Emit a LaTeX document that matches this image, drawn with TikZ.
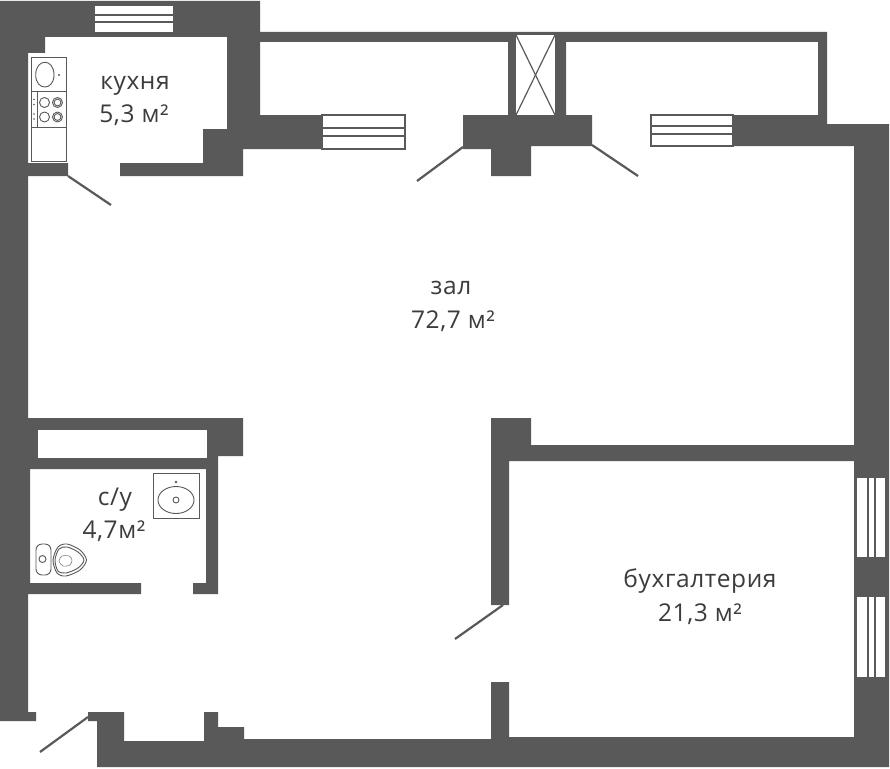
\documentclass[tikz,border=0pt]{standalone}
\usepackage{fontspec}
\setmainfont[LetterSpace=2.5]{Open Sans}
\definecolor{wallgray}{HTML}{595959}
\definecolor{textgray}{HTML}{3C3C3C}
\tikzset{wall/.style = {fill=wallgray, draw=none}}
\tikzset{pane/.style = {fill=white, draw=wallgray, line width=1.1}}
\tikzset{leaf/.style = {draw=wallgray, line width=2.2}}
\tikzset{fixture/.style = {draw=wallgray, line width=0.9}}
\tikzset{roomlabel/.style = {text=textgray, font=\fontsize{24.5}{24.5}\selectfont, inner sep=0, anchor=base}}

\begin{document}
\begin{tikzpicture}[x=1pt, y=-1pt]
    \useasboundingbox (0, 0) rectangle (890, 768);
    \fill [white] (0, 0) rectangle (890, 768);

    % walls
    \path [wall] (0, 1) -- (260, 1) -- (260, 32) -- (827, 32) -- (827, 124) -- (889, 124)
        -- (889, 767) -- (97, 767) -- (97, 721) -- (88, 721) -- (88, 712) -- (124, 712)
        -- (124, 741) -- (204, 741) -- (204, 712) -- (218, 712) -- (218, 727) -- (244, 727)
        -- (244, 739) -- (491, 739) -- (491, 682) -- (509, 682) -- (509, 737) -- (854, 737)
        -- (854, 461) -- (509, 461) -- (509, 605) -- (491, 605) -- (491, 418) -- (531, 418)
        -- (531, 445) -- (854, 445) -- (854, 146) -- (651, 146) -- (651, 115) -- (818, 115)
        -- (818, 42) -- (566, 42) -- (566, 115) -- (592, 115) -- (592, 146) -- (531, 146)
        -- (531, 176) -- (491, 176) -- (491, 149) -- (463, 149) -- (463, 115) -- (508, 115)
        -- (508, 42) -- (260, 42) -- (260, 115) -- (405, 115) -- (405, 149) -- (243, 149)
        -- (243, 176) -- (120, 176) -- (120, 163) -- (203, 163) -- (203, 129) -- (227, 129)
        -- (227, 37) -- (45, 37) -- (45, 53) -- (28, 53) -- (28, 163) -- (68, 163)
        -- (68, 176) -- (28, 176) -- (28, 418) -- (243, 418) -- (243, 456) -- (218, 456)
        -- (218, 594) -- (193, 594) -- (193, 583) -- (206, 583) -- (206, 469) -- (30, 469)
        -- (30, 583) -- (141, 583) -- (141, 594) -- (28, 594) -- (28, 712) -- (36, 712)
        -- (36, 721) -- (0, 721) -- cycle;
    \fill [white] (38, 430) rectangle (207, 458);

    % shaft
    \fill [white] (516, 35) rectangle (555, 115);
    \draw [fixture, line width=1.2] (516, 35) -- (555, 115);
    \draw [fixture, line width=1.2] (555, 35) -- (516, 115);

    % windows
    \foreach \xa/\ya/\xb/\yb/\ba/\bb in {94/5/174/33/15/22, 322/115/405/149/128/136, 651/115/733/146/126/134} {
      \draw [pane] (\xa, \ya) rectangle (\xb, \yb);
      \draw [pane] (\xa, \ba) -- (\xb, \ba);
      \draw [pane] (\xa, \bb) -- (\xb, \bb);
    }
    \foreach \ya/\yb in {477/558, 596/678} {
      \draw [pane] (856, \ya) rectangle (886, \yb);
      \draw [pane] (868, \ya) -- (868, \yb);
      \draw [pane] (875, \ya) -- (875, \yb);
    }

    % doors
    \draw [leaf] (68, 176) -- (111, 205);
    \draw [leaf] (463, 147) -- (417, 181);
    \draw [leaf] (592, 145) -- (638, 176);
    \draw [leaf] (503, 605) -- (455, 639);
    \draw [leaf] (88, 717) -- (40, 752);

    % kitchen unit
    \draw [fixture] (31, 57) rectangle (66, 161);
    \draw [fixture] (31, 91) -- (66, 91);
    \draw [fixture] (31, 127) -- (66, 127);
    \draw [fixture] (37, 91) -- (37, 127);
    \draw [fixture] (35.7, 75) .. controls (35.7, 58) and (54, 58) .. (54, 75)
        .. controls (54, 91) and (35.7, 91) .. (35.7, 75);
    \fill [wallgray] (59, 75) circle (1.2);
    \foreach \yb in {102.5, 117} {
      \draw [fixture] (44.5, \yb) circle (5);
      \draw [fixture] (57.5, \yb) circle (5);
      \draw [fixture] (57.5, \yb) circle (3.4);
      \fill [wallgray] (34, \yb-3) circle (0.8);
      \fill [wallgray] (34, \yb+2) circle (0.8);
    }

    % washbasin
    \draw [fixture] (153, 473) rectangle (199, 518);
    \draw [fixture] (176, 500) ellipse (18 and 13.5);
    \draw [fixture] (176, 500) circle (3);
    \fill [wallgray] (176, 482) circle (1.3);

    % toilet
    \draw [fixture, rounded corners=6] (36, 544) rectangle (51, 575);
    \draw [fixture] (42.5, 559) circle (3.5);
    \draw [fixture] plot [smooth cycle] coordinates {(53, 560) (58, 547) (67, 544) (80, 550)
        (86.5, 560) (80, 570) (66, 576) (57, 573)};
    \draw [fixture] plot [smooth cycle] coordinates {(55, 560) (59, 549) (67, 547) (78, 552)
        (84, 560) (78, 568) (66, 573) (58, 571)};
    \draw [fixture, draw=gray, line width=0.6] plot [smooth cycle] coordinates {(59, 561) (62, 556)
        (69, 556) (72, 560) (70, 565) (63, 566)};

    % labels
    \node [roomlabel] (kitchen) at (135, 89) {кухня};
    \node [roomlabel] (kitchenarea) at (134, 122) {5,3 м²};
    \node [roomlabel] (hall) at (451, 294) {зал};
    \node [roomlabel] (hallarea) at (453, 328) {72,7 м²};
    \node [roomlabel] (wc) at (115, 505) {с/у};
    \node [roomlabel] (wcarea) at (114, 538) {4,7м²};
    \node [roomlabel] (office) at (700, 587) {бухгалтерия};
    \node [roomlabel] (officearea) at (700, 621) {21,3 м²};
  \end{tikzpicture}
\end{document}
